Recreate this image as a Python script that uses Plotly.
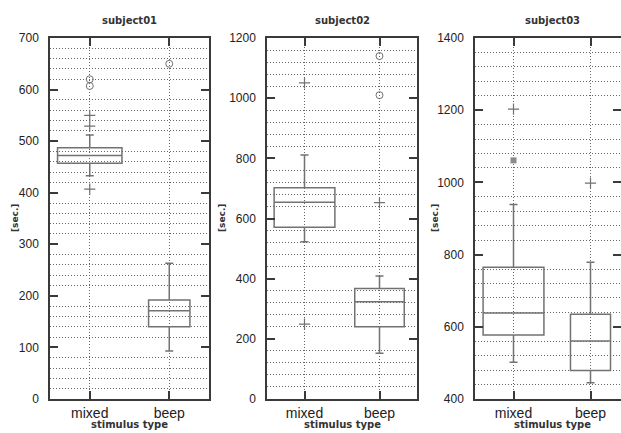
import plotly.graph_objects as go

W, H = 621, 433

categories = ["mixed", "beep"]
subjects = ["subject01", "subject02", "subject03"]

# box statistics per subject: [mixed, beep]
q1 = [[457, 140], [571, 240], [577, 479]]
median = [[472, 171], [654, 323], [638, 561]]
q3 = [[487, 192], [702, 367], [765, 635]]
lower_whisker = [[433, 93], [523, 152], [502, 445]]
upper_whisker = [[512, 263], [811, 409], [939, 779]]
box_widths = [[0.81, 0.52], [0.81, 0.66], [0.79, 0.52]]

# outliers: (category index, value)
plus_outliers = [
    [(0, 529), (0, 550), (0, 407)],
    [(0, 1051), (0, 249), (1, 653)],
    [(0, 1203), (1, 998)],
]
circle_outliers = [
    [(0, 620), (0, 607), (1, 650)],
    [(1, 1140), (1, 1010)],
    [],
]
square_outliers = [[], [], [(0, 1061)]]

y_ranges = [[0, 700], [0, 1200], [400, 1400]]
y_major = [100, 200, 200]
y_minor = [20, 40, 40]

# pixel layout
panel_px = [(50, 209), (267, 417), (475, 621)]
x_ranges = [[0.5, 2.5], [0.5, 2.5], [0.5, 0.5 + (621 - 475) / 77]]
title_cx = [129.5, 342, 552]
top_px, bot_px = 38, 399
ylabel_x = [15, 222, 435]

AX = "#3a3a3a"
BOX = "#727272"
GRID = "#666666"
DOT = "1px,2px"

fig = go.Figure()
for i in range(3):
    xa = "x" if i == 0 else f"x{i+1}"
    ya = "y" if i == 0 else f"y{i+1}"
    pxw = (panel_px[i][1] - panel_px[i][0]) / (x_ranges[i][1] - x_ranges[i][0])
    for j in range(2):
        bw_px = box_widths[i][j] * pxw
        fig.add_trace(go.Box(
            x=[j + 1], q1=[q1[i][j]], median=[median[i][j]], q3=[q3[i][j]],
            lowerfence=[lower_whisker[i][j]], upperfence=[upper_whisker[i][j]],
            width=box_widths[i][j], whiskerwidth=min(1, 8 / bw_px),
            boxpoints=False, fillcolor="rgba(0,0,0,0)",
            line=dict(color=BOX, width=1.5), xaxis=xa, yaxis=ya,
            showlegend=False, hoverinfo="skip"))
    if plus_outliers[i]:
        fig.add_trace(go.Scatter(
            x=[c + 1 for c, v in plus_outliers[i]], y=[v for c, v in plus_outliers[i]],
            mode="markers", marker=dict(symbol="cross-thin-open", size=8, color=BOX,
                                        line=dict(color=BOX, width=1.2)),
            xaxis=xa, yaxis=ya, showlegend=False, hoverinfo="skip"))
    if circle_outliers[i]:
        fig.add_trace(go.Scatter(
            x=[c + 1 for c, v in circle_outliers[i]], y=[v for c, v in circle_outliers[i]],
            mode="markers", marker=dict(symbol="circle-open", size=7, color=BOX,
                                        line=dict(color=BOX, width=1)),
            xaxis=xa, yaxis=ya, showlegend=False, hoverinfo="skip"))
    if square_outliers[i]:
        fig.add_trace(go.Scatter(
            x=[c + 1 for c, v in square_outliers[i]], y=[v for c, v in square_outliers[i]],
            mode="markers", marker=dict(symbol="square", size=6, color="#8a8a8a"),
            xaxis=xa, yaxis=ya, showlegend=False, hoverinfo="skip"))

layout = dict(
    width=W, height=H, margin=dict(l=0, r=0, t=0, b=0),
    paper_bgcolor="white", plot_bgcolor="white", showlegend=False,
    font=dict(family="Liberation Sans, Arial, sans-serif", color="#222"),
)
annotations = []
for i in range(3):
    sfx = "" if i == 0 else str(i + 1)
    x0, x1 = panel_px[i]
    layout["xaxis" + sfx] = dict(
        domain=[x0 / W, x1 / W], range=x_ranges[i], anchor="y" + sfx,
        tickmode="array", tickvals=[1, 2], ticktext=categories,
        ticks="inside", ticklen=8, tickwidth=1.5, tickcolor=AX,
        showline=True, linecolor=AX, linewidth=1.5, mirror="allticks",
        showgrid=True, gridcolor=GRID, griddash=DOT, gridwidth=1,
        zeroline=False, automargin=False,
        tickfont=dict(size=14, color="#222"), ticklabelstandoff=0,
    )
    layout["yaxis" + sfx] = dict(
        domain=[1 - bot_px / H, 1 - top_px / H], range=y_ranges[i],
        anchor="x" + sfx, tickmode="linear", tick0=0, dtick=y_major[i],
        ticks="inside", ticklen=8, tickwidth=1.5, tickcolor=AX,
        showline=True, linecolor=AX, linewidth=1.5, mirror="allticks",
        showgrid=False, zeroline=False, automargin=False,
        minor=dict(dtick=y_minor[i], tick0=0, showgrid=True, gridcolor=GRID,
                   griddash=DOT, gridwidth=1, ticks=""),
        tickfont=dict(size=12, color="#222"), ticklabelstandoff=7,
    )
    cx = title_cx[i]
    annotations.append(dict(
        x=cx / W, y=1 - 20 / H, xref="paper", yref="paper", text="<b>" + subjects[i] + "</b>",
        showarrow=False, font=dict(family="DejaVu Sans", size=10, color="#333"),
        xanchor="center", yanchor="middle"))
    annotations.append(dict(
        x=cx / W, y=1 - 424 / H, xref="paper", yref="paper", text="<b>stimulus type</b>",
        showarrow=False, font=dict(family="DejaVu Sans", size=10, color="#333"),
        xanchor="center", yanchor="middle"))
    annotations.append(dict(
        x=ylabel_x[i] / W, y=1 - 218 / H, xref="paper", yref="paper", text="<b>[sec.]</b>",
        showarrow=False, textangle=-90, font=dict(family="DejaVu Sans", size=9, color="#333"),
        xanchor="center", yanchor="middle"))
layout["annotations"] = annotations
fig.update_layout(**layout)
fig.write_html("out.html", config={"displayModeBar": False},
               post_script="document.body.style.margin='0';document.body.style.overflow='hidden';")
